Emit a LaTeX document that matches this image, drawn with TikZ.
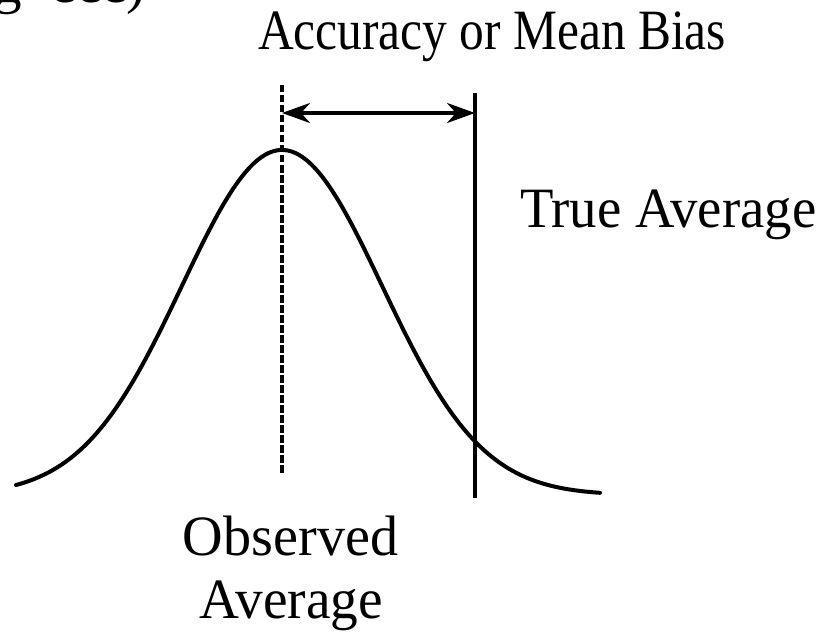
\documentclass[tikz,border=0pt]{standalone}
\usepackage{fontspec}
\setmainfont{Liberation Serif}
\usetikzlibrary{arrows.meta,calc}
\tikzset{
  lbl/.style={font=\fontsize{57}{60}\selectfont, inner sep=0pt, outer sep=0pt},
  curveline/.style={line width=4pt, line join=round, line cap=round},
  solidline/.style={line width=4pt},
  dashseg/.style={line width=4.5pt},
  biasarrow/.style={line width=4pt, {Stealth[length=28pt,width=20pt,inset=9pt]}-{Stealth[length=28pt,width=20pt,inset=9pt]}}
}
\begin{document}
\begin{tikzpicture}[x=1pt,y=-1pt]
\useasboundingbox (0,0) rectangle (834,631);
\begin{scope}
\clip (0,0) rectangle (834,631);
\node[lbl, anchor=base west] (frag) at (-6,3) {g\hspace{14pt} ccc)};
\end{scope}
% labels
\node[lbl, anchor=base west] (acc) at (258,50) {\scalebox{0.867}[1]{Accuracy or Mean Bias}};
\node[lbl, anchor=base west] (true) at (520,227) {\scalebox{0.96}[1]{True Average}};
\node[lbl, anchor=base] (obs) at (290.5,555) {\scalebox{0.985}[1]{Observed}};
\node[lbl, anchor=base] (avg) at (291.5,618) {\scalebox{0.97}[1]{Average}};
% coordinates
\coordinate (obsTop) at (282,85);
\coordinate (obsBot) at (282,477);
\coordinate (trueTop) at (475,93);
\coordinate (trueBot) at (475,498);
\coordinate (arrL) at (282,113);
\coordinate (arrR) at (475,113);
% dashed line, drawn dash by dash
\foreach \k in {0,...,38} {
  \draw[dashseg] ($(obsTop)+(0,10*\k)$) -- ($(obsTop)+(0,10*\k+7.5)$);
}
\draw[solidline] (trueTop) -- (trueBot);
\draw[biasarrow] (arrL) -- (arrR);
% curve
\draw[curveline] plot[domain=16:600, samples=160, smooth]
  (\x, {495-345*exp(-0.5*((\x-282)/100)^2)});
\end{tikzpicture}
\end{document}
